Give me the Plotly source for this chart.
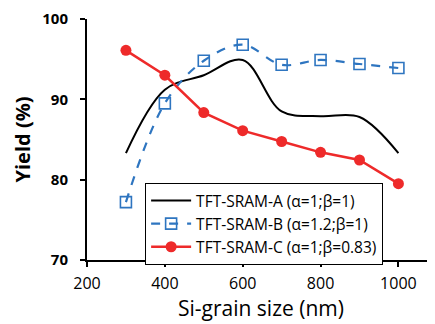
import plotly.graph_objects as go

grain_size = [300, 400, 500, 600, 700, 800, 900, 1000]
yield_a = [83.3, 91.2, 93.0, 94.9, 88.5, 87.9, 87.8, 83.3]
yield_b = [77.2, 89.5, 94.8, 96.8, 94.3, 94.9, 94.4, 93.9]
yield_c = [96.1, 93.0, 88.35, 86.1, 84.75, 83.4, 82.45, 79.5]

names = ["TFT-SRAM-A (α=1;β=1)", "TFT-SRAM-B (α=1.2;β=1)", "TFT-SRAM-C (α=1;β=0.83)"]

FONT = "Open Sans"

fig = go.Figure()
fig.add_trace(go.Scatter(x=grain_size, y=yield_a, mode="lines", name=names[0],
                         line=dict(color="black", width=2, shape="spline", smoothing=1.0)))
fig.add_trace(go.Scatter(x=grain_size, y=yield_b, mode="lines+markers", name=names[1],
                         line=dict(color="#2E75C0", width=2.2, dash="dash", shape="spline", smoothing=1.0),
                         marker=dict(symbol="square-open", size=11, color="#2E75C0", line=dict(width=1.6))))
fig.add_trace(go.Scatter(x=grain_size, y=yield_c, mode="lines+markers", name=names[2],
                         line=dict(color="#EE2A2A", width=2.5),
                         marker=dict(symbol="circle", size=11, color="#EE2A2A")))

# page body adds an 8px offset, so the figure is 8px smaller and shifted
fig.update_layout(
    width=427, height=316,
    margin=dict(l=79, r=0, t=11, b=64, autoexpand=False),
    plot_bgcolor="white", paper_bgcolor="white",
    font=dict(family=FONT, color="black"),
    showlegend=True,
    legend=dict(x=0.167, y=0.32, xanchor="left", yanchor="top",
                bgcolor="white", bordercolor="black", borderwidth=1,
                font=dict(size=15.5, family=FONT), tracegroupgap=0, itemwidth=40),
    xaxis=dict(range=[200, 1094], tickvals=[200, 400, 600, 800, 1000],
               showline=True, linecolor="black", linewidth=2,
               ticks="outside", ticklen=5, tickwidth=2, tickcolor="black",
               showgrid=False, zeroline=False, automargin=False,
               ticklabelstandoff=3, ticklabeloverflow="allow",
               tickfont=dict(size=16, family=FONT),
               title=dict(text="Si-grain size (nm)", font=dict(size=21, family=FONT), standoff=5)),
    yaxis=dict(range=[70, 100], tickvals=[70, 80, 90, 100],
               showline=True, linecolor="black", linewidth=2,
               ticks="outside", ticklen=5, tickwidth=2, tickcolor="black",
               showgrid=False, zeroline=False, ticklabelstandoff=9, automargin=False,
               ticklabeloverflow="allow",
               tickfont=dict(size=15, family=FONT, weight="bold"),
               title=dict(text="Yield (%)", font=dict(size=20, family=FONT, weight="bold"), standoff=6)),
)

fig.write_html("out.html")
